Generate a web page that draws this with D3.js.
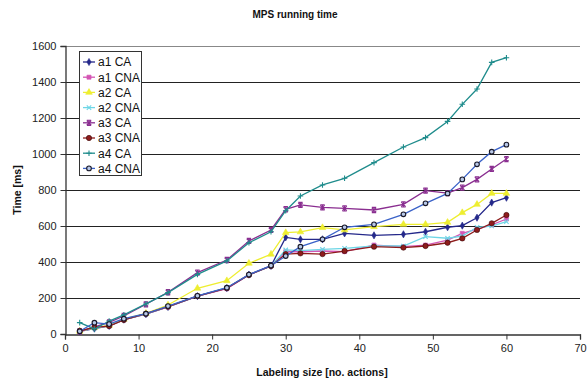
<!DOCTYPE html>
<html>
<head>
<meta charset="utf-8">
<script src="https://cdn.jsdelivr.net/npm/d3@7/dist/d3.min.js"></script>
<style>
  html, body { margin: 0; padding: 0; background: #fff; }
  svg { display: block; font-family: "Liberation Sans", Arial, sans-serif; }
</style>
</head>
<body>
<svg id="chart" width="587" height="382"></svg>
<script>
// ---- data ----
const xValues = [2, 4, 6, 8, 11, 14, 18, 22, 25, 28, 30, 32, 35, 38, 42, 46, 49, 52, 54, 56, 58, 60];
const seriesNames = ["a1 CA", "a1 CNA", "a2 CA", "a2 CNA", "a3 CA", "a3 CNA", "a4 CA", "a4 CNA"];
const a1CA  = [15, 30, 45, 80, 110, 150, 210, 255, 330, 378, 537, 526, 526, 559, 548, 554, 568, 593, 602, 646, 730, 757];
const a1CNA = [15, 35, 45, 80, 112, 150, 210, 252, 328, 378, 457, 457, 461, 458, 494, 485, 494, 522, 559, 583, 606, 639];
const a2CA  = [15, 35, 48, 82, 115, 161, 254, 296, 393, 443, 563, 567, 591, 578, 596, 609, 609, 620, 674, 720, 781, 781];
const a2CNA = [18, 33, 45, 80, 112, 152, 211, 257, 328, 378, 467, 463, 470, 476, 489, 489, 541, 532, 544, 593, 600, 624];
const a3CA  = [15, 40, 65, 100, 165, 232, 341, 411, 517, 578, 693, 717, 704, 698, 689, 720, 796, 783, 813, 859, 917, 972];
const a3CNA = [17, 37, 44, 78, 113, 152, 211, 255, 328, 378, 444, 448, 444, 461, 485, 480, 489, 507, 531, 578, 615, 661];
const a4CA  = [63, 28, 72, 106, 167, 230, 331, 406, 507, 568, 685, 767, 828, 865, 952, 1039, 1091, 1181, 1276, 1361, 1509, 1535];
const a4CNA = [15, 63, 55, 85, 113, 155, 212, 257, 330, 380, 433, 485, 526, 593, 609, 665, 726, 781, 859, 943, 1013, 1052];
const seriesValues = [a1CA, a1CNA, a2CA, a2CNA, a3CA, a3CNA, a4CA, a4CNA];
const xTicks = [0, 10, 20, 30, 40, 50, 60, 70];
const yTicks = [0, 200, 400, 600, 800, 1000, 1200, 1400, 1600];
const titleText = "MPS running time";
const xTitle = "Labeling size [no. actions]";
const yTitle = "Time [ms]";

// ---- styles ----
const styles = [
  { color: "#24288a", marker: "diamond", fill: "#24288a", stroke: "#24288a" },
  { color: "#d455b4", marker: "square",  fill: "#d455b4", stroke: "#d455b4" },
  { color: "#eeee30", marker: "triangle",fill: "#eeee30", stroke: "#eeee30" },
  { color: "#6ed6e6", marker: "x",       fill: "none",    stroke: "#6ed6e6" },
  { color: "#8a2e90", marker: "star",    fill: "none",    stroke: "#8a2e90" },
  { color: "#8e1c1c", marker: "circle",  fill: "#8e1c1c", stroke: "#3a0a0a" },
  { color: "#1f8c8c", marker: "plus",    fill: "none",    stroke: "#1f8c8c" },
  { color: "#3a62c8", marker: "ocircle", fill: "#b8c8e8", stroke: "#1a1a2a" }
];

const svg = d3.select("#chart");
const margin = { left: 65, right: 7, top: 46, bottom: 48 };
const W = 587, H = 382;
const x = d3.scaleLinear().domain([0, 70]).range([margin.left, W - margin.right]);
const y = d3.scaleLinear().domain([0, 1600]).range([H - margin.bottom, margin.top]);

// gridlines
svg.append("g").selectAll("line").data(yTicks.filter(d => d > 0)).join("line")
  .attr("x1", x(0)).attr("x2", x(70))
  .attr("y1", d => Math.round(y(d)) + 0.5).attr("y2", d => Math.round(y(d)) + 0.5)
  .attr("stroke", d => d === 1600 ? "#888" : "#222").attr("stroke-width", 1);

// axes
const xAxis = d3.axisBottom(x).tickValues(xTicks).tickSize(5).tickPadding(5).tickFormat(d3.format("d"));
const gx = svg.append("g").attr("transform", `translate(0,${Math.round(y(0)) + 0.5})`).call(xAxis);
const yAxis = d3.axisLeft(y).tickValues(yTicks).tickSize(5).tickPadding(4).tickFormat(d3.format("d"));
const gy = svg.append("g").attr("transform", `translate(${Math.round(x(0)) + 0.5},0)`).call(yAxis);
[gx, gy].forEach(g => {
  g.select(".domain").attr("stroke", "#333").attr("stroke-width", 1.3);
  g.selectAll(".tick line").attr("stroke", "#333");
  g.selectAll(".tick text").attr("font-size", 11).attr("fill", "#222")
    .attr("font-family", "'Liberation Sans', Arial, sans-serif");
});
gy.selectAll(".tick text").attr("dy", "0.35em");

// marker path generator
function markerPath(type) {
  switch (type) {
    case "diamond": return d3.symbol(d3.symbolDiamond, 15)();
    case "square": return d3.symbol(d3.symbolSquare, 17)();
    case "triangle": return d3.symbol(d3.symbolTriangle, 19)();
    case "circle": return d3.symbol(d3.symbolCircle, 22)();
    case "ocircle": return d3.symbol(d3.symbolCircle, 17)();
    case "x": return "M-2.2,-2.2L2.2,2.2M-2.2,2.2L2.2,-2.2";
    case "star": return "M-2.2,-2.2L2.2,2.2M-2.2,2.2L2.2,-2.2M0,-2.6L0,2.6M-2.2,-2.6L2.2,-2.6M-2.2,2.6L2.2,2.6";
    case "plus": return "M-2.8,0L2.8,0M0,-2.8L0,2.8";
  }
}

const line = d3.line().x(d => x(d[0])).y(d => y(d[1]));
const plot = svg.append("g");
seriesValues.forEach((vals, i) => {
  const st = styles[i];
  const pts = xValues.map((xv, j) => [xv, vals[j]]);
  const g = plot.append("g");
  g.append("path").datum(pts).attr("d", line)
    .attr("fill", "none").attr("stroke", st.color).attr("stroke-width", 1.3);
  g.selectAll("path.m").data(pts).join("path").attr("class", "m")
    .attr("transform", d => `translate(${x(d[0])},${y(d[1])})`)
    .attr("d", markerPath(st.marker))
    .attr("fill", st.fill).attr("stroke", st.stroke)
    .attr("stroke-width", st.marker === "ocircle" ? 1.1 : (st.fill === "none" ? 1.1 : 0.6));
});

// legend
const lg = svg.append("g");
lg.append("rect").attr("x", 79.5).attr("y", 51.5).attr("width", 62).attr("height", 124)
  .attr("fill", "#fff").attr("stroke", "#333").attr("stroke-width", 1);
seriesNames.forEach((name, i) => {
  const st = styles[i];
  const cy = 62 + i * 15.2;
  lg.append("line").attr("x1", 83).attr("x2", 95).attr("y1", cy).attr("y2", cy)
    .attr("stroke", st.color).attr("stroke-width", 1.3);
  lg.append("path").attr("transform", `translate(89,${cy})`).attr("d", markerPath(st.marker))
    .attr("fill", st.fill).attr("stroke", st.stroke)
    .attr("stroke-width", st.marker === "ocircle" ? 1.1 : (st.fill === "none" ? 1.1 : 0.6));
  lg.append("text").attr("x", 98).attr("y", cy).attr("dy", "0.36em")
    .attr("font-size", 12).attr("fill", "#111").text(name);
});

// titles
svg.append("text").attr("x", 295).attr("y", 18).attr("text-anchor", "middle")
  .attr("font-size", 10).attr("font-weight", "bold").attr("fill", "#111").text(titleText);
svg.append("text").attr("x", 322).attr("y", 376).attr("text-anchor", "middle")
  .attr("font-size", 10.5).attr("font-weight", "bold").attr("fill", "#111").text(xTitle);
svg.append("text").attr("transform", "translate(21,190) rotate(-90)").attr("text-anchor", "middle")
  .attr("font-size", 10.5).attr("font-weight", "bold").attr("fill", "#111").text(yTitle);
</script>
</body>
</html>
